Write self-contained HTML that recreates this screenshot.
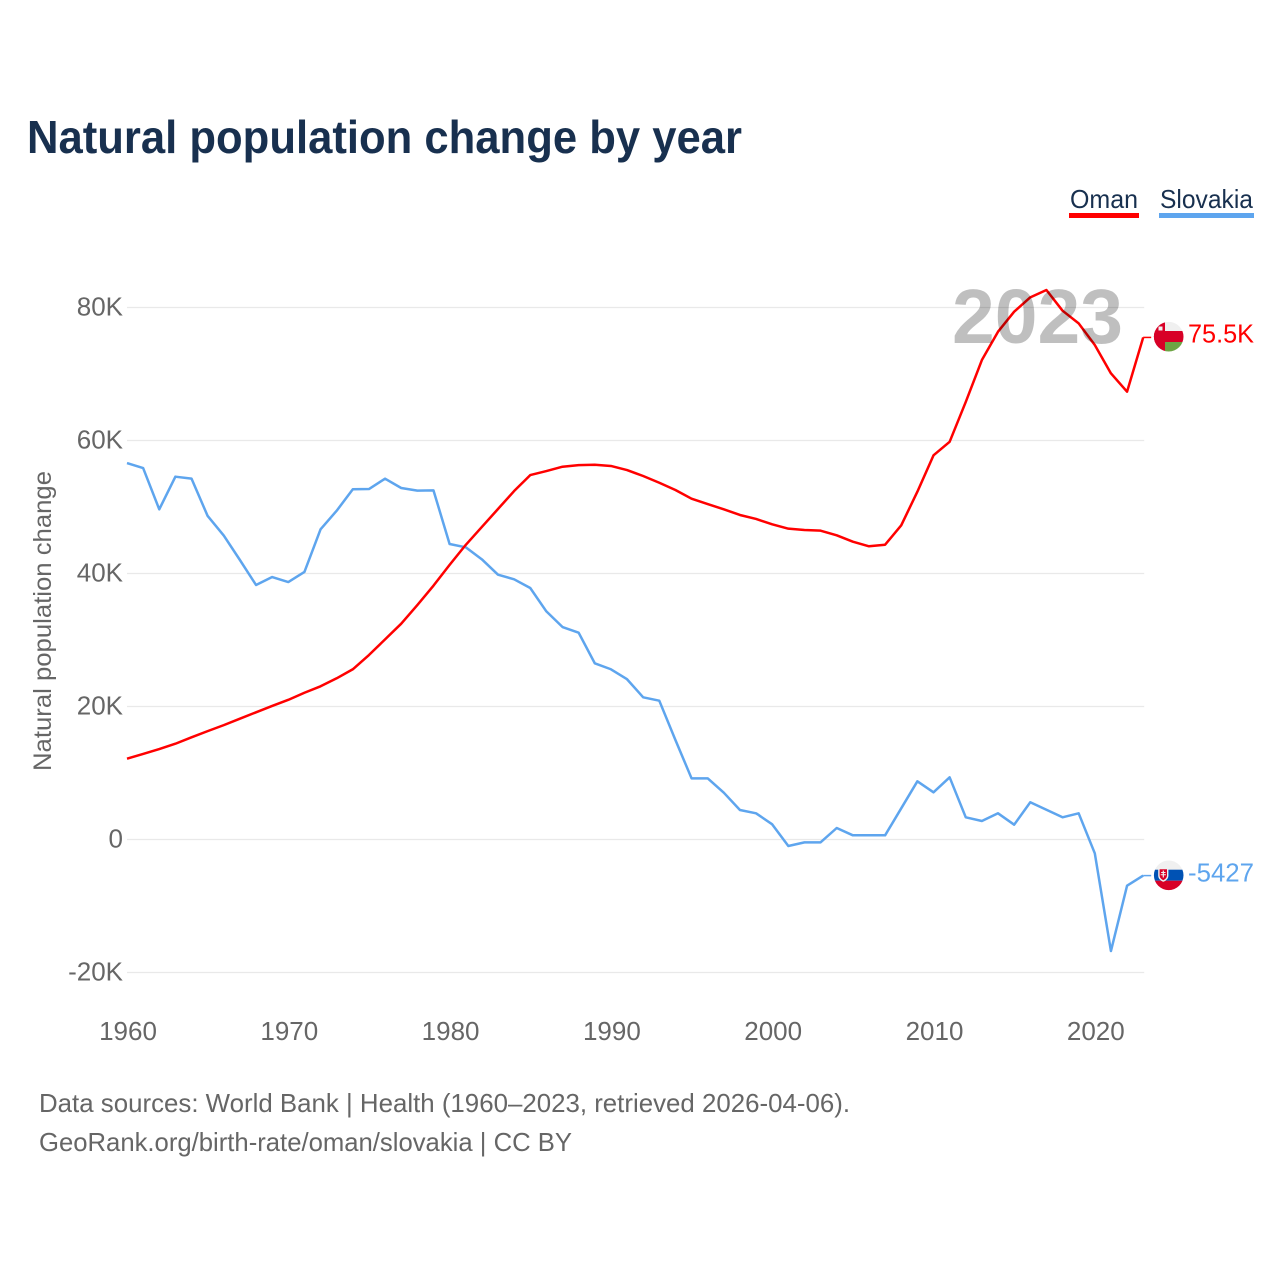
<!DOCTYPE html>
<html lang="en">
<head>
<meta charset="utf-8">
<title>Natural population change by year</title>
<style>
  html, body { margin: 0; padding: 0; background: #fff; }
  svg { display: block; font-family: "Liberation Sans", sans-serif; }
</style>
</head>
<body>
<svg id="chart" width="1280" height="1280" viewBox="0 0 1280 1280" xmlns="http://www.w3.org/2000/svg">
  <rect width="1280" height="1280" fill="#ffffff"/>
  <text x="27" y="153" font-size="46" font-weight="700" fill="#18304f" textLength="715" lengthAdjust="spacingAndGlyphs">Natural population change by year</text>

  <g>
    <text x="1070" y="208" font-size="26" fill="#18304f" textLength="68" lengthAdjust="spacingAndGlyphs">Oman</text>
    <rect x="1069" y="213" width="70" height="5" fill="#ff0000"/>
  </g>
  <g>
    <text x="1160" y="208" font-size="26" fill="#18304f" textLength="93" lengthAdjust="spacingAndGlyphs">Slovakia</text>
    <rect x="1159" y="213" width="95" height="5" fill="#5ea5ee"/>
  </g>

  <text transform="translate(51 621) rotate(-90)" text-anchor="middle" font-size="25" fill="#666666" textLength="300" lengthAdjust="spacingAndGlyphs">Natural population change</text>

  <g id="grid"></g>
  <g id="yticks"></g>
  <g id="xticks"></g>

  <g id="lines"></g>

  <text x="952" y="343" font-size="77" font-weight="700" fill="#000000" fill-opacity="0.25" textLength="171" lengthAdjust="spacingAndGlyphs">2023</text>

  <defs>
    <clipPath id="clip-oman"><circle cx="1168.7" cy="336.7" r="14.8"/></clipPath>
    <clipPath id="clip-slovakia"><circle cx="1168.7" cy="875.3" r="14.8"/></clipPath>
  </defs>

  <g clip-path="url(#clip-oman)">
    <rect x="1153" y="321" width="32" height="32" fill="#f0f0f0"/>
    <rect x="1153" y="331" width="32" height="11" fill="#d80027"/>
    <rect x="1165" y="342" width="20" height="11" fill="#6da544"/>
    <rect x="1153" y="321" width="12" height="32" fill="#d80027"/>
    <rect x="1158.5" y="326.5" width="4" height="4" fill="#f0f0f0"/>
  </g>
  <g clip-path="url(#clip-slovakia)">
    <rect x="1153" y="860" width="32" height="10" fill="#f0f0f0"/>
    <rect x="1153" y="869.7" width="32" height="11" fill="#0052b4"/>
    <rect x="1153" y="880.7" width="32" height="11" fill="#d80027"/>
    <path d="M1158.2 868h10.2v7.5c0 3.5-3 5.5-5.1 6.3-2.1-.8-5.1-2.8-5.1-6.3z" fill="#f0f0f0"/>
    <path d="M1159.6 869.2h7.4v6.2c0 2.6-2.2 4-3.7 4.8-1.5-.8-3.7-2.2-3.7-4.8z" fill="#d80027"/>
    <path d="M1162.7 870.5h1.2v1.5h1.6v1h-1.6v1.2h2v1h-2v2.3h-1.2v-2.3h-2v-1h2V873h-1.6v-1h1.6z" fill="#f0f0f0"/>
  </g>

  <text id="value-oman" x="1188" y="342.5" font-size="26" fill="#ff0000" textLength="66" lengthAdjust="spacingAndGlyphs"></text>
  <text id="value-slovakia" x="1188" y="881.5" font-size="26" fill="#5ea5ee" textLength="66" lengthAdjust="spacingAndGlyphs"></text>

  <text x="39" y="1112" font-size="26" fill="#666666" textLength="811" lengthAdjust="spacingAndGlyphs">Data sources: World Bank | Health (1960–2023, retrieved 2026-04-06).</text>
  <text x="39" y="1151" font-size="26" fill="#666666" textLength="533" lengthAdjust="spacingAndGlyphs">GeoRank.org/birth-rate/oman/slovakia | CC BY</text>
</svg>

<script>
const startYear = 1960;
const omanValues = [12.15,12.86,13.6,14.4,15.37,16.3,17.2,18.17,19.13,20.08,21.0,22.07,23.04,24.24,25.6,27.74,30.1,32.45,35.26,38.17,41.3,44.3,47.0,49.7,52.4,54.8,55.4,56.06,56.3,56.36,56.17,55.56,54.66,53.65,52.56,51.25,50.45,49.65,48.8,48.2,47.4,46.74,46.54,46.44,45.74,44.78,44.09,44.33,47.25,52.3,57.77,59.8,65.8,72.1,76.36,79.37,81.53,82.63,79.52,77.62,74.36,70.1,67.34,75.5];
const slovakiaValues = [56.6,55.86,49.65,54.56,54.26,48.65,45.7,42.03,38.27,39.47,38.72,40.23,46.65,49.44,52.66,52.7,54.26,52.86,52.46,52.5,44.44,43.94,42.13,39.82,39.13,37.82,34.3,31.95,31.1,26.5,25.6,24.1,21.38,20.87,14.96,9.2,9.2,7.04,4.44,3.94,2.28,-0.98,-0.43,-0.43,1.73,0.63,0.63,0.63,4.69,8.75,7.1,9.35,3.34,2.78,3.94,2.23,5.6,4.48,3.34,3.94,-2.08,-16.77,-6.95,-5.427];
const yTickValues = [80,60,40,20,0,-20];
const yTickLabels = ["80K","60K","40K","20K","0","-20K"];
const xTickYears = [1960,1970,1980,1990,2000,2010,2020];
const omanEndLabel = "75.5K";
const slovakiaEndLabel = "-5427";

const SVG_NS = "http://www.w3.org/2000/svg";
function xScale(year) { return 127 + (year - 1960) * 16.13; }
function yScale(v) { return 839.5 - v * 6.65; }

const grid = document.getElementById("grid");
const yticks = document.getElementById("yticks");
const xticks = document.getElementById("xticks");
const lines = document.getElementById("lines");

yTickValues.forEach(function (v, i) {
  const line = document.createElementNS(SVG_NS, "line");
  
  
  line.setAttribute("x1", xScale(1960));
  line.setAttribute("x2", xScale(2023) + 1);
  line.setAttribute("y1", yScale(v));
  line.setAttribute("y2", yScale(v));
  line.setAttribute("stroke", "#e9e9e9");
  line.setAttribute("stroke-width", "1.2");
  grid.appendChild(line);

  const label = document.createElementNS(SVG_NS, "text");
  
  
  label.setAttribute("x", 123);
  label.setAttribute("y", yScale(v) + 8);
  label.setAttribute("text-anchor", "end");
  label.setAttribute("font-size", "26");
  label.setAttribute("fill", "#666666");
  label.textContent = yTickLabels[i];
  yticks.appendChild(label);
});

xTickYears.forEach(function (year) {
  const label = document.createElementNS(SVG_NS, "text");
  
  
  label.setAttribute("x", xScale(year) + 1);
  label.setAttribute("y", 1040);
  label.setAttribute("text-anchor", "middle");
  label.setAttribute("font-size", "26");
  label.setAttribute("fill", "#666666");
  label.textContent = String(year);
  xticks.appendChild(label);
});

function linePoints(values) {
  return values.map(function (v, i) {
    return xScale(startYear + i).toFixed(2) + "," + yScale(v).toFixed(2);
  }).join(" ");
}

const omanLine = document.createElementNS(SVG_NS, "polyline");


omanLine.setAttribute("points", linePoints(omanValues));
omanLine.setAttribute("fill", "none");
omanLine.setAttribute("stroke", "#ff0000");
omanLine.setAttribute("stroke-width", "2.5");
omanLine.setAttribute("stroke-linejoin", "round");

const slovakiaLine = document.createElementNS(SVG_NS, "polyline");


slovakiaLine.setAttribute("points", linePoints(slovakiaValues));
slovakiaLine.setAttribute("fill", "none");
slovakiaLine.setAttribute("stroke", "#5ea5ee");
slovakiaLine.setAttribute("stroke-width", "2.5");
slovakiaLine.setAttribute("stroke-linejoin", "round");

lines.appendChild(slovakiaLine);
lines.appendChild(omanLine);

const omanLeader = document.createElementNS(SVG_NS, "line");


omanLeader.setAttribute("x1", xScale(2023));
omanLeader.setAttribute("x2", xScale(2023) + 8);
omanLeader.setAttribute("y1", yScale(omanValues[omanValues.length - 1]));
omanLeader.setAttribute("y2", yScale(omanValues[omanValues.length - 1]));
omanLeader.setAttribute("stroke", "#ff0000");
omanLeader.setAttribute("stroke-width", "1.5");
lines.appendChild(omanLeader);

const slovakiaLeader = document.createElementNS(SVG_NS, "line");


slovakiaLeader.setAttribute("x1", xScale(2023));
slovakiaLeader.setAttribute("x2", xScale(2023) + 8);
slovakiaLeader.setAttribute("y1", yScale(slovakiaValues[slovakiaValues.length - 1]));
slovakiaLeader.setAttribute("y2", yScale(slovakiaValues[slovakiaValues.length - 1]));
slovakiaLeader.setAttribute("stroke", "#5ea5ee");
slovakiaLeader.setAttribute("stroke-width", "1.5");
lines.appendChild(slovakiaLeader);

document.getElementById("value-oman").textContent = omanEndLabel;
document.getElementById("value-slovakia").textContent = slovakiaEndLabel;
</script>
</body>
</html>
